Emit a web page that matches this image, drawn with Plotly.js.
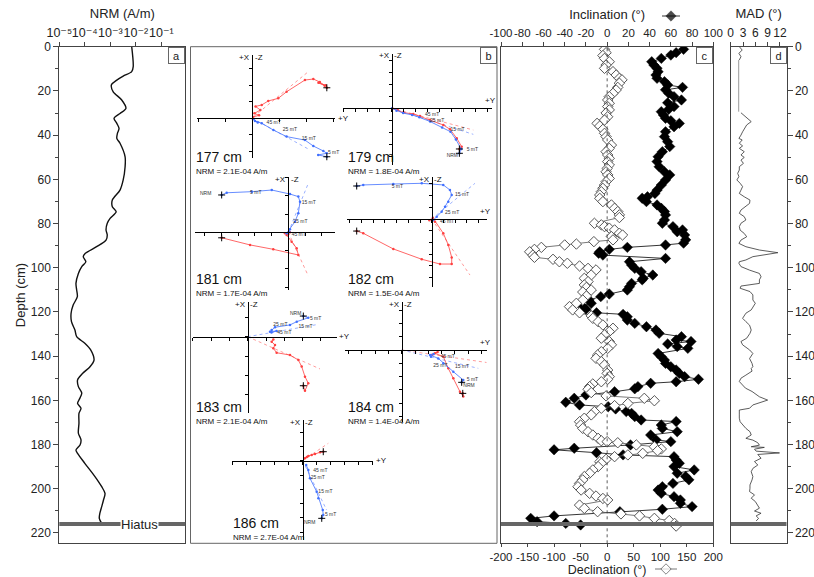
<!DOCTYPE html>
<html><head><meta charset="utf-8">
<script src="https://cdn.plot.ly/plotly-3.0.1.min.js"></script>
<style>html,body{margin:0;padding:0;background:#fff}#chart{width:814px;height:577px}</style>
</head><body><div id="chart"></div>
<script>
// ---------------- DATA ----------------
// Panel a: NRM intensity (A/m) vs depth (cm)
const nrmDepth = [0,9.0,11.3,13.3,15.1,17.3,20.4,24.1,27.9,30.2,32.4,34.7,37.0,39.2,41.5,43.7,49.8,54.3,60.3,64.9,69.4,72.4,74.7,77.7,79.9,82.9,85.2,87.5,90.5,93.5,95.0,97.3,99.5,102.6,107.1,110.1,113.1,116.9,120.6,124.4,128.2,131.2,134.2,137.2,141.8,144.8,147.8,150.8,153.8,156.8,159.9,161.4,163.6,165.9,170.4,174.9,177.9,180.2,182.5,184.0,188.5,194.5,199.1,202.1,205.1,208.1,211.1,213.4,215.7];
const nrmValue = [6.9e-3,7.9e-3,6.9e-3,3.2e-3,1.8e-3,1.1e-3,1.3e-3,2.8e-3,4.1e-3,2.4e-3,1.4e-3,1.8e-3,2.2e-3,1.9e-3,1.8e-3,2.4e-3,3.8e-3,3.8e-3,3.2e-3,2.4e-3,1.2e-3,1.2e-3,1.7e-3,9.8e-4,7.6e-4,6.8e-4,7.6e-4,6.8e-4,2.9e-4,1.05e-4,8.7e-5,1.1e-4,7.6e-5,5.6e-5,4.5e-5,4.8e-5,5.1e-5,3.5e-5,2.9e-5,3.0e-5,4.1e-5,4.8e-5,1.0e-4,1.7e-4,2.3e-4,1.6e-4,8.3e-5,5.2e-5,5.6e-5,7.6e-5,5.9e-5,5.2e-5,7.1e-5,5.9e-5,5.9e-5,5.6e-5,7.1e-5,6.5e-5,4.5e-5,5.2e-5,1.0e-4,2.5e-4,4.6e-4,6.2e-4,5.4e-4,4.6e-4,3.9e-4,3.7e-4,4.6e-4];
const nrmTickVals = [1e-5,1e-4,1e-3,1e-2,1e-1];
const nrmTickText = ['10⁻⁵','10⁻⁴','10⁻³','10⁻²','10⁻¹'];

// Panel c: [depth (cm), inclination (deg)]
const inclination = [[1.2,72],[2.7,65],[3.8,60],[5.3,51],[6.8,42],[8.3,44],[9.8,47],[11.3,48],[12.8,46],[14.3,47],[15.8,54],[17.3,57],[18.4,71],[19.5,55],[21.1,58],[22.6,63],[24.1,70],[25.4,57],[27.1,63],[28.3,58],[29.4,51],[30.9,53],[32.4,55],[33.5,60],[34.7,68],[36.2,63],[38.5,55],[40.7,54],[43.0,57],[45.2,59],[47.5,52],[49.8,48],[52.0,47],[54.3,49],[56.6,54],[58.0,59],[60.3,55],[62.6,51],[64.9,47],[66.4,45],[67.9,38],[68.6,33],[70.1,37],[71.6,47],[73.1,51],[74.6,54],[76.1,55],[78.4,54],[79.9,52],[81.4,62],[82.9,71],[83.7,66],[85.2,73],[87.4,74],[88.9,72],[89.7,55],[90.8,19],[91.7,2],[92.8,-7],[93.5,-8],[94.3,-4],[95.8,55],[97.3,21],[98.8,23],[100.3,26],[101.8,32],[103.3,43],[104.8,34],[105.5,33],[107.1,23],[108.6,21],[110.1,19],[111.9,2],[113.1,-6],[114.6,-17],[116.1,-15],[117.6,-23],[118.8,-20],[120.4,-10],[121.1,15],[122.2,19],[123.7,19],[125.2,26],[126.7,37],[128.2,46],[129.7,49],[131.2,70],[132.7,65],[133.4,79],[134.5,57],[135.7,66],[136.5,76],[138.8,48],[140.3,51],[141.8,54],[143.3,55],[144.8,60],[146.3,65],[147.8,68],[149.3,73],[150.5,86],[151.6,65],[152.3,41],[153.8,29],[154.8,26],[156.1,7],[157.6,-20],[159.1,-31],[160.9,-39],[162.1,-26],[162.9,1],[163.9,8],[165.1,18],[165.9,23],[167.4,26],[168.9,32],[169.6,65],[171.2,51],[172.7,52],[174.2,66],[175.7,41],[177.9,46],[178.7,60],[180.2,22],[181.7,-31],[182.4,-50],[183.7,-10],[184.7,15],[185.5,63],[187.0,65],[188.5,68],[190.0,63],[191.5,82],[193.0,66],[194.5,74],[196.0,77],[197.6,62],[199.1,52],[200.6,48],[202.1,51],[203.6,63],[205.1,69],[206.6,69],[208.1,80],[209.3,52],[210.4,12],[212.3,-50],[213.4,-72],[214.9,-66],[215.7,-39],[216.4,-25]];
// Panel c: [depth (cm), declination (deg)]
const declination = [[1.2,-5],[2.7,-2],[4.0,-8],[5.3,-5],[6.8,4],[8.3,-2],[9.8,-5],[11.3,11],[12.8,17],[14.3,23],[15.0,28],[16.5,23],[18.4,20],[19.6,17],[21.1,11],[22.6,4],[24.1,1],[25.6,4],[27.1,1],[28.6,4],[30.0,-2],[31.7,1],[33.2,-5],[34.7,-19],[35.9,-14],[37.4,-8],[39.2,-5],[40.7,-2],[42.2,1],[44.5,8],[46.0,4],[47.5,-2],[49.0,1],[50.5,4],[52.0,1],[53.5,4],[55.1,0],[56.6,-2],[58.0,1],[59.6,4],[61.1,-2],[62.6,-5],[64.1,-8],[65.6,-11],[67.1,-14],[68.6,-14],[70.1,-8],[71.6,8],[73.1,14],[74.6,20],[76.1,23],[77.3,23],[79.9,-24],[80.6,-11],[81.4,-5],[82.1,4],[82.9,14],[84.4,23],[85.2,29],[85.9,8],[87.4,11],[88.2,-25],[89.3,-58],[89.7,-80],[90.8,-124],[91.7,-137],[92.8,-146],[94.3,-140],[95.3,-137],[96.2,-102],[97.3,-90],[98.0,-75],[99.2,-52],[100.3,-36],[101.0,-21],[103.3,-30],[104.8,-43],[106.3,-36],[107.8,-43],[108.9,-39],[110.1,-30],[111.0,-46],[112.8,-39],[114.6,-46],[116.1,-58],[117.6,-71],[119.1,-65],[120.4,-52],[121.8,-30],[122.9,-27],[124.4,-17],[125.9,-8],[127.4,11],[128.9,4],[130.4,-5],[131.9,-11],[133.4,4],[134.9,8],[136.5,1],[138.0,-11],[139.5,-18],[141.0,-21],[142.5,-11],[144.0,-5],[146.3,1],[147.8,0],[149.3,4],[150.5,1],[151.6,-11],[152.6,-27],[153.8,-33],[155.0,-36],[156.5,-30],[158.0,-2],[159.1,70],[160.2,89],[161.4,39],[162.4,14],[163.6,-11],[165.1,-24],[166.6,-30],[168.1,-43],[169.7,-52],[171.2,-50],[172.7,-46],[174.2,-36],[175.7,-27],[177.2,-17],[178.3,-11],[178.7,0],[179.2,20],[180.2,55],[181.0,89],[182.0,102],[182.8,95],[184.0,67],[184.7,39],[185.5,14],[186.7,-2],[187.8,-14],[188.5,-11],[190.0,-17],[191.5,-27],[193.0,-33],[194.5,-43],[196.0,-46],[197.6,-52],[199.1,-55],[200.6,-49],[202.1,-33],[203.3,-21],[204.4,-8],[205.1,1],[207.4,-52],[208.9,-43],[210.4,-18],[211.4,26],[212.3,61],[213.4,89],[214.4,117],[215.7,127],[216.9,130]];
const incTicks = [-100,-80,-60,-40,-20,0,20,40,60,80,100];
const decTicks = [-200,-150,-100,-50,0,50,100,150,200];

// Panel d: [depth (cm), MAD (deg)]
const mad = [[0,2.1],[1.5,2.8],[3.0,2.0],[4.5,2.5],[6.0,2.1],[null,null],[29.9,2.5],[31.7,3.7],[33.9,5.0],[35.4,3.9],[37.0,3.3],[38.5,2.9],[40.0,2.5],[41.5,2.0],[42.2,2.8],[43.7,2.1],[44.9,2.9],[46.0,2.1],[47.5,3.3],[49.0,2.5],[50.1,3.3],[51.3,2.5],[52.8,3.1],[54.3,2.1],[55.8,2.1],[57.3,1.7],[58.8,2.0],[60.3,1.5],[61.8,2.3],[63.3,2.9],[64.9,2.5],[66.4,2.1],[67.9,3.3],[69.4,4.7],[70.9,4.6],[72.1,3.7],[73.9,2.5],[75.4,2.1],[76.9,3.3],[78.4,3.7],[79.9,2.5],[81.4,2.1],[83.0,2.3],[84.5,3.3],[86.0,3.9],[87.5,2.5],[89.0,2.0],[90.5,3.7],[92.0,7.0],[93.2,11.5],[94.3,8.2],[95.0,5.4],[96.5,3.7],[97.3,2.1],[98.0,2.0],[99.5,2.5],[101.1,4.6],[102.6,7.0],[104.1,7.4],[105.5,7.0],[107.1,7.0],[108.3,2.5],[109.3,2.3],[110.8,4.7],[112.3,5.4],[114.6,5.4],[116.1,6.0],[117.6,5.5],[119.1,5.0],[120.6,3.7],[122.9,2.9],[124.4,3.7],[126.0,4.6],[128.2,5.0],[129.7,4.7],[131.9,3.9],[133.4,2.5],[134.9,2.9],[137.2,4.6],[138.8,5.4],[141.1,4.6],[143.3,5.2],[144.8,5.4],[145.6,5.0],[146.8,5.2],[148.6,3.7],[150.0,2.5],[151.5,2.1],[153.0,2.9],[154.5,3.6],[156.0,5.2],[158.4,7.0],[159.9,9.0],[161.0,7.0],[162.1,5.4],[163.6,4.6],[164.4,2.1],[166.6,2.1],[168.1,2.1],[169.7,2.3],[171.2,2.9],[172.7,3.7],[174.2,4.7],[175.7,5.0],[177.2,3.7],[178.0,5.4],[179.2,6.6],[180.3,7.0],[181.0,5.0],[181.3,8.2],[182.1,5.8],[183.0,6.2],[183.8,11.9],[184.5,6.6],[186.2,7.4],[187.7,5.8],[189.3,6.6],[190.8,5.4],[192.3,5.0],[194.5,5.4],[196.0,5.2],[198.3,4.7],[199.8,4.7],[201.3,4.6],[202.8,5.8],[204.3,5.0],[205.8,6.0],[207.3,6.6],[208.8,7.0],[210.1,5.8],[211.1,7.4],[212.3,6.2],[213.4,6.8],[214.6,6.2]];
const madGap = [[6.0,1.95],[29.4,1.95]];
const madTicks = [0,3,6,9,12];
const hiatusDepth = 216;

// Panel b: Zijderveld diagrams (units = axis tick intervals). Hor = horizontal projection (blue), Ver = vertical (red)
const zijLabels = ['177 cm','179 cm','181 cm','182 cm','183 cm','184 cm','186 cm'];
const zijNRM = ['NRM = 2.1E-04 A/m','NRM = 1.8E-04 A/m','NRM = 1.7E-04 A/m','NRM = 1.5E-04 A/m','NRM = 2.1E-04 A/m','NRM = 1.4E-04 A/m','NRM = 2.7E-04 A/m'];

const z177Ver = [[2.76,1.85],[2.72,2.0],[2.45,2.15],[2.68,1.98],[2.5,2.2],[2.26,2.38],[1.95,2.32],[1.27,1.61],[0.96,1.21],[0.59,1.05],[0.35,0.81],[0.12,0.72],[0.3,0.5],[0.08,0.3],[0.25,0.18],[0.03,0.08]];
const z177Hor = [[2.76,-2.33],[2.44,-2.22],[2.76,-2.12],[2.63,-1.98],[2.26,-1.68],[1.95,-1.32],[1.27,-1.11],[0.78,-0.71],[0.35,-0.3],[0.1,-0.16],[0.2,-0.25],[0.03,-0.05]];
const z177VerFit = [[0.05,0.1],[2.07,2.82]];
const z177HorFit = [[0,0],[2.14,-1.92]];
const z177Steps = [[0.53,-0.27,'45 mT'],[1.13,-0.67,'25 mT'],[1.83,-1.25,'15 mT'],[2.8,-2.1,'5 mT'],[2.54,-2.69,'NRM']];

const z179Ver = [[5.64,-3.39],[5.83,-3.2],[5.42,-2.5],[4.86,-1.75],[4.3,-1.39],[3.19,-0.97],[2.36,-0.64],[1.8,-0.47],[0.97,-0.36],[0.5,-0.15],[0.05,0]];
const z179Hor = [[5.64,-3.75],[5.8,-3.4],[5.35,-2.6],[4.9,-1.95],[4.2,-1.6],[3.2,-1.1],[2.3,-0.75],[1.7,-0.55],[0.95,-0.4],[0.4,-0.2],[0.02,0]];
const z179VerFit = [[0,0],[6.8,-1.81]];
const z179HorFit = [[0,0],[6.8,-2.17]];
const z179Steps = [[2.78,-0.56,'45 mT'],[3.2,-1.05,'25 mT'],[4.9,-1.81,'15 mT'],[6.25,-3.47,'5 mT'],[4.58,-3.98,'NRM']];

const z181Hor = [[-3.99,2.04],[-3.69,2.16],[-2.19,2.22],[-0.99,2.31],[0.1,2.09],[0.6,1.95],[0.7,1.67],[0.6,1.04],[0.4,0.58],[0.1,0.16],[-0.1,-0.05],[0.05,0.05]];
const z181Ver = [[-3.99,-0.3],[-2.29,-0.69],[-0.9,-0.93],[0.6,-1.24],[0.5,-0.87],[0.2,-0.51],[-0.1,-0.15],[0.1,0.0],[-0.2,-0.05]];
const z181HorFit = [[0,0],[1.2,2.68]];
const z181VerFit = [[0,0],[1.2,-2.39]];
const z181Steps = [[-5.29,2.09,'NRM'],[-2.29,2.15,'5 mT'],[0.8,1.64,'15 mT'],[0.3,0.58,'25 mT'],[0.2,-0.15,'45 mT']];

const z182Hor = [[-6.41,2.82],[-5.85,2.91],[-3.28,2.99],[-0.85,3.05],[0.99,2.91],[1.56,2.48],[1.71,2.05],[1.42,1.48],[1.14,1.05],[0.85,0.62],[0.43,0.2],[0.14,-0.09]];
const z182Ver = [[-6.41,-1.03],[-5.85,-1.22],[-3.28,-2.56],[-0.85,-3.44],[0.71,-3.85],[1.71,-3.85],[1.71,-3.28],[1.42,-2.22],[0.99,-1.22],[0.28,-0.23],[0.1,0.1],[-0.2,-0.1]];
const z182HorFit = [[0,0],[3.7,3.05]];
const z182VerFit = [[0,0],[3.27,-4.79]];
const z182Steps = [[-8.12,2.82,'NRM'],[-3.42,2.79,'5 mT'],[1.99,2.05,'15 mT'],[1.14,0.56,'25 mT'],[0.71,-0.23,'45 mT']];

const z183Hor = [[3.04,1.07],[3.31,0.98],[2.68,0.78],[2.31,0.61],[1.49,0.49],[1.31,0.35],[1.22,0.26],[1.58,0.3],[1.3,0.22]];
const z183Ver = [[3.04,-2.54],[3.13,-2.8],[3.31,-2.41],[3.13,-2.07],[2.95,-1.55],[2.77,-1.21],[2.31,-0.95],[1.58,-0.83],[1.4,-0.6],[1.49,-0.43],[1.31,-0.26],[1.4,-0.15]];
const z183HorFit = [[0,0],[3.86,0.64]];
const z183VerFit = [[0,0],[3.95,-1.67]];
const z183Steps = [[2.31,1.21,'NRM'],[3.4,0.95,'5 mT'],[1.4,0.61,'25 mT'],[2.77,0.52,'15 mT'],[1.62,0.22,'45 mT']];

const z184Hor = [[4.51,-2.43],[4.63,-2.26],[3.88,-1.63],[3.13,-1.0],[2.75,-0.63],[2.13,-0.38],[2.4,-0.3],[2.2,-0.5]];
const z184Ver = [[4.59,-3.26],[4.63,-3.5],[4.38,-3.13],[3.88,-2.13],[3.5,-1.38],[3.13,-0.5],[2.5,-0.25],[2.7,-0.15],[2.3,-0.35]];
const z184HorFit = [[0,0],[5.76,-1.38]];
const z184VerFit = [[0,0],[6.39,-0.94]];
const z184Steps = [[2.93,-0.48,'45 mT'],[2.38,-1.15,'25 mT'],[4.0,-1.28,'15 mT'],[4.89,-2.26,'5 mT'],[4.63,-2.68,'NRM']];

const z186Ver = [[1.47,0.63],[1.24,0.59],[0.88,0.47],[0.64,0.4],[0.4,0.33],[0.16,0.17],[0.3,0.25]];
const z186Hor = [[1.36,-4.03],[1.47,-3.8],[1.43,-3.45],[1.12,-2.63],[1.0,-2.17],[0.52,-1.23],[0.4,-0.65],[0.25,-0.3]];
const z186VerFit = [[0,0],[1.83,1.22]];
const z186HorFit = [[0,0],[1.71,-3.45]];
const z186Steps = [[0.76,-0.7,'45 mT'],[0.57,-1.21,'25 mT'],[1.12,-2.15,'15 mT'],[1.59,-3.77,'5 mT'],[0.09,-4.34,'NRM']];

// legend keys (line with a diamond in the middle)
const keyX = [0, 1, 2];
const keyY = [0, 0, 0];
const keyMarkerSize = [0, 8, 0];

// ---------------- LAYOUT GEOMETRY (pixels) ----------------
const W = 814, H = 577;
const fx = p => p / W;
const fy = p => 1 - p / H;
const TOP = 46.7, BOT = 543.3;
const depthRange = [224.7, 0];
const PA = [59.3, 185.3], PB = [190.5, 497], PC = [501, 713.3], PD = [730.7, 786.5];
const FONT = 'Arial, "Liberation Sans", "DejaVu Sans", sans-serif';
const AX = '#444';
const zijGeom = [
  {ox:252.3, oy:118.3, sx:27,   sy:16.5, x0:196.7, x1:335,   y0:55,  y1:158,   lx:195,   ly:160,   plusY:'right'},
  {ox:391.7, oy:108.3, sx:12,   sy:12,   x0:342.7, x1:491.7, y0:54,  y1:165,   lx:346.7, ly:160,   plusY:'above'},
  {ox:288.3, oy:232.3, sx:16.7, sy:18.3, x0:195,   x1:335,   y0:177, y1:290,   lx:195,   ly:281.7, plusY:'none'},
  {ox:431.7, oy:219,   sx:11.7, sy:11.7, x0:346.7, x1:486.7, y0:177, y1:287,   lx:346.7, ly:281.7, plusY:'above'},
  {ox:247.7, oy:336.7, sx:18.3, sy:19.3, x0:192.7, x1:336.7, y0:302, y1:413,   lx:195,   ly:410,   plusY:'right'},
  {ox:401.7, oy:350,   sx:13.3, sy:13.3, x0:345,   x1:486.7, y0:302, y1:421.7, lx:346.7, ly:410,   plusY:'above'},
  {ox:302.7, oy:460.7, sx:14,   sy:14.3, x0:231.7, x1:373.3, y0:420, y1:540,   lx:231.7, ly:526,   plusY:'right'}
];
const zijSets = [
  [z177Hor, z177Ver, z177HorFit, z177VerFit, z177Steps],
  [z179Hor, z179Ver, z179HorFit, z179VerFit, z179Steps],
  [z181Hor, z181Ver, z181HorFit, z181VerFit, z181Steps],
  [z182Hor, z182Ver, z182HorFit, z182VerFit, z182Steps],
  [z183Hor, z183Ver, z183HorFit, z183VerFit, z183Steps],
  [z184Hor, z184Ver, z184HorFit, z184VerFit, z184Steps],
  [z186Hor, z186Ver, z186HorFit, z186VerFit, z186Steps]
];

const col = (arr, i) => arr.map(p => p[i]);
const traces = [];

// Panel a
traces.push({x: nrmValue, y: nrmDepth, xaxis:'x', yaxis:'y', mode:'lines',
  line:{color:'#111', width:1.4, shape:'spline', smoothing:0.8}, showlegend:false, hoverinfo:'skip'});

// Panel c
const decMarker = {symbol:'diamond', color:'#fff', line:{color:'#555', width:1}};
const incMarker = {symbol:'diamond', color:'#000', line:{color:'#000', width:0.5}};
traces.push({x: col(declination,1), y: col(declination,0), xaxis:'x3', yaxis:'y2', mode:'lines+markers',
  showlegend:false, line:{color:'#555', width:0.8}, marker:Object.assign({size:8}, decMarker)});
traces.push({x: col(inclination,1), y: col(inclination,0), xaxis:'x2', yaxis:'y2', mode:'lines+markers',
  showlegend:false, line:{color:'#000', width:0.8}, marker:Object.assign({size:8}, incMarker)});

// legend keys
traces.push({x: keyX, y: keyY, xaxis:'x12', yaxis:'y11', mode:'lines+markers', showlegend:false,
  line:{color:'#000', width:0.8}, marker:Object.assign({size:keyMarkerSize}, incMarker), cliponaxis:false});
traces.push({x: keyX, y: keyY, xaxis:'x13', yaxis:'y12', mode:'lines+markers', showlegend:false,
  line:{color:'#555', width:0.8}, marker:Object.assign({size:keyMarkerSize}, decMarker), cliponaxis:false});

// Panel d
traces.push({x: col(madGap,1), y: col(madGap,0), xaxis:'x4', yaxis:'y3', mode:'lines',
  line:{color:'#999', width:1}, showlegend:false});
traces.push({x: col(mad,1), y: col(mad,0), xaxis:'x4', yaxis:'y3', mode:'lines',
  line:{color:'#333', width:0.8}, showlegend:false, connectgaps:false});

const hidden = {visible:false, showgrid:false, zeroline:false, fixedrange:true};
const layout = {
  width: W, height: H, margin:{l:0,r:0,t:0,b:0}, paper_bgcolor:'#fff', plot_bgcolor:'rgba(0,0,0,0)',
  font:{family:FONT, size:12, color:'#222'},
  showlegend:false,
  xaxis:{domain:[fx(PA[0]), fx(PA[1])], type:'log', range:[-5,-0.06], side:'top', anchor:'y',
    tickmode:'array', tickvals:nrmTickVals, ticktext:nrmTickText, ticks:'outside', ticklen:4, tickcolor:AX, tickangle:0,
    showline:true, mirror:true, linecolor:AX, showgrid:false, zeroline:false,
    tickfont:{size:12.5}, title:{text:'NRM (A/m)', font:{size:13}, standoff:4}},
  yaxis:{domain:[fy(BOT), fy(TOP)], range:depthRange, anchor:'x', tick0:0, dtick:20,
    ticks:'outside', ticklen:5, tickcolor:AX, minor:{ticks:'outside', ticklen:3, dtick:10, tickcolor:AX},
    showline:true, mirror:true, linecolor:AX, showgrid:false, zeroline:false,
    tickfont:{size:12}, title:{text:'Depth (cm)', font:{size:13}, standoff:2}},
  xaxis2:{domain:[fx(PC[0]), fx(PC[1])], range:[-100,100], side:'top', anchor:'y2',
    tickmode:'array', tickvals:incTicks, ticktext:incTicks.map(v => String(v)), ticks:'outside', ticklen:4, tickcolor:AX, tickangle:0,
    showline:true, linecolor:AX, showgrid:false, zeroline:false,
    tickfont:{size:11.5}, title:{text:'Inclination (°)', font:{size:13}, standoff:4}},
  xaxis3:{overlaying:'x2', range:[-200,200], side:'bottom', anchor:'y2',
    tickmode:'array', tickvals:decTicks, ticktext:decTicks.map(v => String(v)), ticks:'outside', ticklen:3, tickcolor:AX, tickangle:0,
    showline:true, linecolor:AX, showgrid:false, zeroline:false,
    tickfont:{size:11.5}, title:{text:'Declination (°)', font:{size:12.5}, standoff:1}},
  yaxis2:{domain:[fy(BOT), fy(TOP)], range:depthRange, anchor:'x2', showticklabels:false, ticks:'',
    showline:true, mirror:true, linecolor:AX, showgrid:false, zeroline:false},
  xaxis4:{domain:[fx(PD[0]), fx(PD[1])], range:[0,13.6], side:'top', anchor:'y3',
    tickmode:'array', tickvals:madTicks, ticks:'outside', ticklen:4, tickcolor:AX, tickangle:0,
    showline:true, mirror:true, linecolor:AX, showgrid:false, zeroline:false,
    tickfont:{size:12}, title:{text:'MAD (°)', font:{size:13}, standoff:4}},
  yaxis3:{domain:[fy(BOT), fy(TOP)], range:depthRange, anchor:'x4', side:'right', tick0:0, dtick:20,
    ticks:'outside', ticklen:5, tickcolor:AX, minor:{ticks:'outside', ticklen:3, dtick:10, tickcolor:AX},
    showline:true, mirror:true, linecolor:AX, showgrid:false, zeroline:false, tickfont:{size:12}},
  xaxis12:Object.assign({domain:[fx(662), fx(680)], range:[0,2], anchor:'y11'}, hidden),
  yaxis11:Object.assign({domain:[fy(21), fy(11)], range:[-1,1], anchor:'x12'}, hidden),
  xaxis13:Object.assign({domain:[fx(655), fx(677)], range:[0,2], anchor:'y12'}, hidden),
  yaxis12:Object.assign({domain:[fy(574), fy(564)], range:[-1,1], anchor:'x13'}, hidden),
  shapes:[
    {type:'rect', xref:'paper', yref:'paper', x0:fx(PB[0]), x1:fx(PB[1]), y0:fy(BOT), y1:fy(TOP), line:{color:'#666', width:1}},
    {type:'line', xref:'x3', yref:'y2 domain', x0:0, x1:0, y0:0, y1:1, line:{color:'#333', width:0.8, dash:'dot'}},
    {type:'line', xref:'x domain', yref:'y', x0:0, x1:1, y0:hiatusDepth, y1:hiatusDepth, line:{color:'#666', width:4}},
    {type:'line', xref:'x2 domain', yref:'y2', x0:0, x1:1, y0:hiatusDepth, y1:hiatusDepth, line:{color:'#666', width:4}},
    {type:'line', xref:'x4 domain', yref:'y3', x0:0, x1:1, y0:hiatusDepth, y1:hiatusDepth, line:{color:'#666', width:4}}
  ],
  annotations:[
    {xref:'paper', yref:'y', x:fx(139), y:hiatusDepth, text:'Hiatus', showarrow:false, bgcolor:'#fff', borderpad:0, font:{size:13}, xanchor:'center', yanchor:'middle'}
  ]
};

// panel letters
[['a',PA[1]],['b',PB[1]],['c',PC[1]],['d',PD[1]]].forEach(([t,xr]) => {
  layout.annotations.push({xref:'paper', yref:'paper', x:fx(xr), y:fy(TOP), xanchor:'right', yanchor:'top',
    text:t, showarrow:false, font:{size:11}, bordercolor:'#666', borderwidth:1, borderpad:1, bgcolor:'#fff', width:13, height:13});
});

// Zijderveld diagrams
zijGeom.forEach((g, k) => {
  const xa = 'x' + (5 + k), ya = 'y' + (4 + k);
  const [hor, ver, horFit, verFit, steps] = zijSets[k];
  layout['xaxis' + (5 + k)] = {domain:[fx(g.x0), fx(g.x1)], range:[(g.x0 - g.ox) / g.sx, (g.x1 - g.ox) / g.sx],
    anchor:'free', position:fy(g.oy), showline:true, linecolor:'#000', linewidth:1, ticks:'outside', ticklen:3,
    tickcolor:'#000', tick0:0, dtick:1, showticklabels:false, showgrid:false, zeroline:false};
  layout['yaxis' + (4 + k)] = {domain:[fy(g.y1), fy(g.y0)], range:[(g.oy - g.y1) / g.sy, (g.oy - g.y0) / g.sy],
    anchor:'free', position:fx(g.ox), showline:true, linecolor:'#000', linewidth:1, ticks:'outside', ticklen:3,
    tickcolor:'#000', tick0:0, dtick:1, showticklabels:false, showgrid:false, zeroline:false};
  const base = {xaxis:xa, yaxis:ya, showlegend:false, hoverinfo:'skip'};
  traces.push(Object.assign({x:col(verFit,0), y:col(verFit,1), mode:'lines', line:{color:'#ff9090', width:0.9, dash:'dot'}}, base));
  traces.push(Object.assign({x:col(horFit,0), y:col(horFit,1), mode:'lines', line:{color:'#90a8ff', width:0.9, dash:'dot'}}, base));
  traces.push(Object.assign({x:col(ver,0), y:col(ver,1), mode:'lines+markers', line:{color:'#ff4040', width:0.8},
    marker:{size:2.5, color:'#ff4040'}, cliponaxis:false}, base));
  traces.push(Object.assign({x:col(hor,0), y:col(hor,1), mode:'lines+markers', line:{color:'#4070ff', width:0.8},
    marker:{size:2.5, color:'#4070ff'}, cliponaxis:false}, base));
  traces.push(Object.assign({x:[hor[0][0], ver[0][0]], y:[hor[0][1], ver[0][1]], mode:'markers',
    marker:{symbol:'cross-thin', size:5, line:{color:'#000', width:1}}, cliponaxis:false}, base));
  traces.push(Object.assign({x:col(steps,0), y:col(steps,1), text:col(steps,2), mode:'text', textposition:'middle right',
    textfont:{size:5, color:'#333', family:FONT}, cliponaxis:false}, base));
  layout.annotations.push({xref:'paper', yref:'paper', x:fx(g.lx), y:fy(g.ly - 3), xanchor:'left', yanchor:'middle',
    text:zijLabels[k], showarrow:false, font:{size:14, color:'#111'}, borderpad:0});
  layout.annotations.push({xref:'paper', yref:'paper', x:fx(g.lx), y:fy(g.ly + 11.5), xanchor:'left', yanchor:'middle',
    text:zijNRM[k], showarrow:false, font:{size:8, color:'#111'}, borderpad:0});
  layout.annotations.push({xref:'paper', yref:'paper', x:fx(g.ox - 1), y:fy(g.y0 + 2), xanchor:'right', yanchor:'middle',
    text:'+X', showarrow:false, font:{size:8, color:'#111'}, borderpad:0});
  layout.annotations.push({xref:'paper', yref:'paper', x:fx(g.ox + 1.5), y:fy(g.y0 + 2), xanchor:'left', yanchor:'middle',
    text:'-Z', showarrow:false, font:{size:8, color:'#111'}, borderpad:0});
  if (g.plusY === 'above') {
    layout.annotations.push({xref:'paper', yref:'paper', x:fx(g.x1 - 1), y:fy(g.oy - 2), xanchor:'center', yanchor:'bottom', text:'+Y', showarrow:false, font:{size:8, color:'#111'}, borderpad:0});
  } else if (g.plusY === 'right') {
    layout.annotations.push({xref:'paper', yref:'paper', x:fx(g.x1 + 1.5), y:fy(g.oy), xanchor:'left', yanchor:'middle', text:'+Y', showarrow:false, font:{size:8, color:'#111'}, borderpad:0});
  }
});

Plotly.newPlot('chart', traces, layout, {displayModeBar:false, staticPlot:true});
</script></body></html>
